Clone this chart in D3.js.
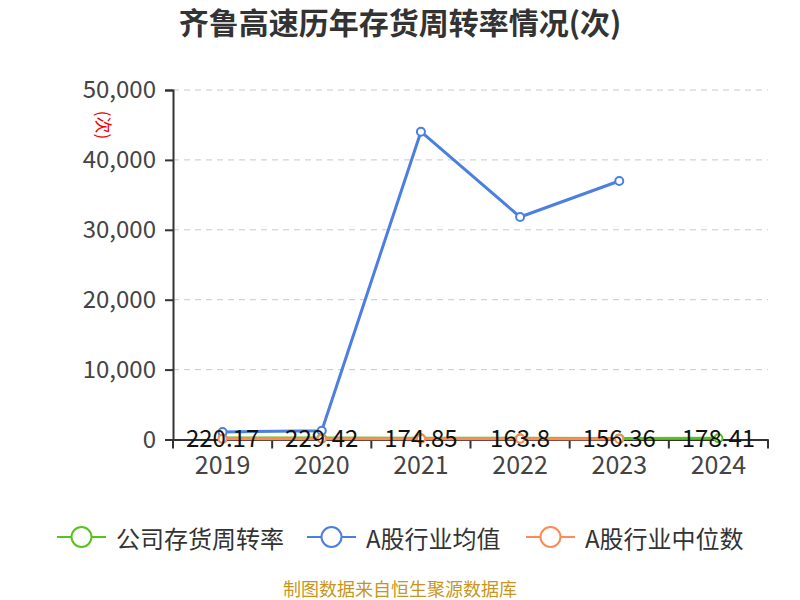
<!DOCTYPE html>
<html><head><meta charset="utf-8">
<script src="https://cdn.jsdelivr.net/npm/d3@7"></script>
<style>body{margin:0;background:#fff}svg{display:block}text{font-family:"Noto Sans CJK SC","Noto Sans",sans-serif}</style>
</head><body><svg id="c" width="800" height="600"></svg>
<script>
const years = ["2019","2020","2021","2022","2023","2024"];
const company = [220.17, 229.42, 174.85, 163.8, 156.36, 178.41];
const industryAvg = [1070, 1260, 44030, 31830, 36980, null];
const industryMedian = [90, 95, 100, 92, 85, null];
const yTicks = [0, 10000, 20000, 30000, 40000, 50000];
const seriesNames = ["公司存货周转率", "A股行业均值", "A股行业中位数"];
const colors = ["#5ac21e", "#4b7fe0", "#fd8a57"];

const svg = d3.select("#c");
const m = {l:173, r:768, t:90, b:439.5};
const x = d3.scaleBand().domain(years).range([m.l, m.r]);
const y = d3.scaleLinear().domain([0, 50000]).range([m.b, m.t]);
const cx = d => x(d) + x.bandwidth()/2;
const FONT = '"Noto Sans CJK SC",sans-serif';

// title
svg.append("text").attr("x", 400).attr("y", 34).attr("text-anchor","middle")
  .attr("font-size", 30).attr("font-weight","bold").attr("fill","#333").text("齐鲁高速历年存货周转率情况(次)");

// grid
svg.append("g").selectAll("line").data(yTicks.filter(v=>v>0)).join("line")
  .attr("x1", m.l).attr("x2", m.r).attr("y1", d=>y(d)).attr("y2", d=>y(d))
  .attr("stroke","#c8c8c8").attr("stroke-dasharray","6,5").attr("stroke-width",1);

// y axis
const ya = svg.append("g").attr("transform",`translate(${m.l},0)`)
  .call(d3.axisLeft(y).tickValues(yTicks).tickFormat(d3.format(",")).tickSize(8).tickPadding(9));
ya.select(".domain").attr("stroke","#333").attr("stroke-width",2);
ya.selectAll(".tick line").attr("stroke","#333").attr("stroke-width",2);
ya.selectAll(".tick text").attr("font-size",24).attr("fill","#444").attr("font-family",FONT);

// y axis name
svg.append("text").attr("transform","translate(104,125) rotate(90)").attr("text-anchor","middle")
  .attr("dominant-baseline","central").attr("font-size",17).attr("fill","#e00").text("(次)");

// x axis
const xa = svg.append("g").attr("transform",`translate(0,${m.b})`)
  .call(d3.axisBottom(x).tickSize(0).tickPadding(17));
xa.select(".domain").attr("stroke","#333").attr("stroke-width",2);
xa.selectAll(".tick text").attr("font-size",25).attr("fill","#444").attr("font-family",FONT);
const bounds = years.map(d=>x(d)).concat([x(years[years.length-1]) + x.bandwidth()]);
svg.append("g").selectAll("line").data(bounds).join("line")
  .attr("x1",d=>d).attr("x2",d=>d).attr("y1",m.b).attr("y2",m.b+9)
  .attr("stroke","#333").attr("stroke-width",2);

const series = [company, industryAvg, industryMedian];
const line = d3.line().defined(d=>d[1]!=null).x(d=>cx(d[0])).y(d=>y(d[1]));
series.forEach((s,i)=>{
  const pts = years.map((yr,j)=>[yr,s[j]]);
  svg.append("path").datum(pts).attr("d",line).attr("fill","none")
    .attr("stroke",colors[i]).attr("stroke-width",3).attr("stroke-linejoin","round");
  svg.append("g").selectAll("circle").data(pts.filter(d=>d[1]!=null)).join("circle")
    .attr("cx",d=>cx(d[0])).attr("cy",d=>y(d[1])).attr("r",4)
    .attr("fill","#fff").attr("stroke",colors[i]).attr("stroke-width",2);
});

// labels for company
svg.append("g").selectAll("text").data(years.map((yr,j)=>[yr,company[j]])).join("text")
  .attr("x",d=>cx(d[0])).attr("y",d=>y(d[1])+9).attr("text-anchor","middle")
  .attr("font-size",24).attr("fill","#111").text(d=>d[1]);

// legend
const lx = [57, 307, 526];
seriesNames.forEach((n,i)=>{
  const g = svg.append("g").attr("transform",`translate(${lx[i]},537)`);
  g.append("line").attr("x1",0).attr("x2",49).attr("stroke",colors[i]).attr("stroke-width",2);
  g.append("circle").attr("cx",24.5).attr("r",10).attr("fill","#fff").attr("stroke",colors[i]).attr("stroke-width",2);
  g.append("text").attr("x",59).attr("dominant-baseline","central").attr("font-size",24).attr("fill","#333").text(n);
});

// source
svg.append("text").attr("x",400).attr("y",596).attr("text-anchor","middle").attr("font-size",18)
  .attr("fill","#c8961e").text("制图数据来自恒生聚源数据库");
</script></body></html>
